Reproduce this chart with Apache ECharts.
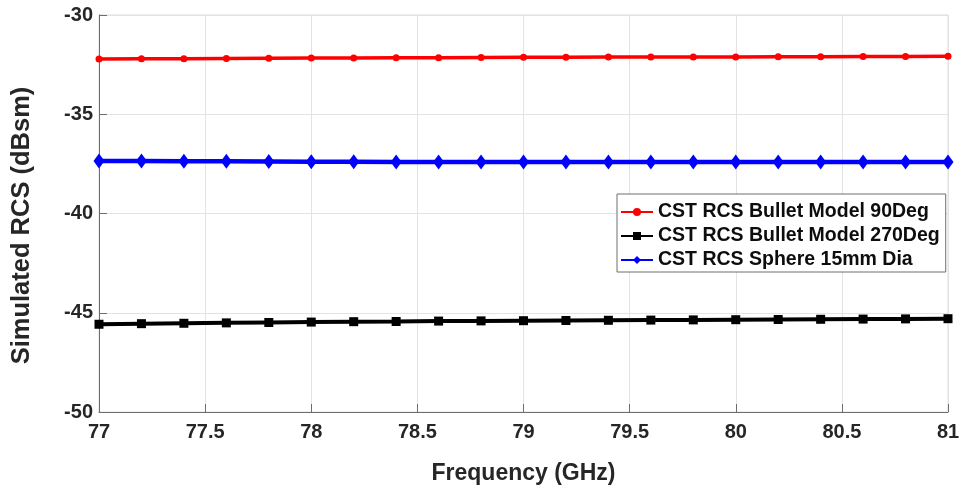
<!DOCTYPE html>
<html>
<head>
<meta charset="utf-8">
<script src="https://cdn.jsdelivr.net/npm/echarts@6/dist/echarts.min.js"></script>
<style>
  html, body { margin: 0; padding: 0; background: #fff; }
  #chart { width: 963px; height: 488px; }
</style>
</head>
<body>
<div id="chart"></div>
<script>
// Frequency sweep (GHz), 0.2 GHz step
const freqs = [77.0, 77.2, 77.4, 77.6, 77.8, 78.0, 78.2, 78.4, 78.6, 78.8, 79.0,
               79.2, 79.4, 79.6, 79.8, 80.0, 80.2, 80.4, 80.6, 80.8, 81.0];

// Simulated RCS (dBsm)
const bullet90 = [-32.22, -32.21, -32.20, -32.19, -32.18, -32.17, -32.16, -32.15, -32.15, -32.14, -32.13,
                  -32.13, -32.12, -32.12, -32.11, -32.11, -32.10, -32.10, -32.09, -32.09, -32.08];
const bullet270 = [-45.58, -45.55, -45.53, -45.51, -45.49, -45.47, -45.45, -45.44, -45.42, -45.41, -45.40,
                   -45.39, -45.38, -45.37, -45.36, -45.35, -45.34, -45.33, -45.32, -45.31, -45.30];
const sphere15 = [-37.35, -37.36, -37.37, -37.37, -37.38, -37.39, -37.39, -37.40, -37.40, -37.40, -37.41,
                  -37.41, -37.41, -37.41, -37.41, -37.41, -37.41, -37.41, -37.41, -37.41, -37.41];

const seriesNames = ['CST RCS Bullet Model 90Deg', 'CST RCS Bullet Model 270Deg', 'CST RCS Sphere 15mm Dia'];

const pairs = vals => freqs.map((f, i) => [f, vals[i]]);

const fontFam = '"Liberation Sans", Arial, sans-serif';
const textColor = '#262626';
const chart = echarts.init(document.getElementById('chart'));

const axisLabelStyle = { color: textColor, fontSize: 20, fontWeight: 'bold', fontFamily: fontFam };

chart.setOption({
  animation: false,
  backgroundColor: '#fff',
  grid: { left: 99, right: 15, top: 15, bottom: 76, containLabel: false, outerBoundsMode: 'none',
          show: true, borderColor: '#dcdcdc', borderWidth: 1 },
  xAxis: {
    type: 'value', min: 77, max: 81, interval: 0.5,
    name: 'Frequency (GHz)', nameLocation: 'middle', nameGap: 50,
    nameTextStyle: { color: textColor, fontSize: 23, fontWeight: 'bold', fontFamily: fontFam },
    axisLine: { show: true, onZero: false, lineStyle: { color: '#6e6e6e', width: 1 } },
    axisTick: { show: true, inside: true, length: 8, lineStyle: { color: '#6e6e6e' } },
    axisLabel: Object.assign({ margin: 10, formatter: v => String(v) }, axisLabelStyle),
    splitLine: { show: true, lineStyle: { color: '#e3e3e3', width: 1 } }
  },
  yAxis: {
    type: 'value', min: -50, max: -30, interval: 5,
    name: 'Simulated RCS (dBsm)', nameLocation: 'middle', nameGap: 64, nameRotate: 90,
    nameTextStyle: { color: textColor, fontSize: 25.5, fontWeight: 'bold', fontFamily: fontFam,
                     padding: [0, 24, 0, 0] },
    axisLine: { show: true, onZero: false, lineStyle: { color: '#6e6e6e', width: 1 } },
    axisTick: { show: true, inside: true, length: 8, lineStyle: { color: '#6e6e6e' } },
    axisLabel: Object.assign({ margin: 6 }, axisLabelStyle),
    splitLine: { show: true, lineStyle: { color: '#e3e3e3', width: 1 } }
  },
  legend: {
    orient: 'vertical', left: 617, top: 194,
    backgroundColor: '#fff', borderColor: '#6e6e6e', borderWidth: 1,
    padding: [8, 6, 2, 3], itemGap: 4, itemWidth: 32, itemHeight: 10,
    textStyle: { color: '#0d0d0d', fontSize: 19.5, fontWeight: 'bold', fontFamily: fontFam },
    data: seriesNames
  },
  series: [
    {
      name: seriesNames[0], type: 'line', data: pairs(bullet90),
      color: '#ff0000', lineStyle: { width: 3.5, color: '#ff0000' },
      symbol: 'circle', symbolSize: 7, itemStyle: { color: '#ff0000' }, z: 3
    },
    {
      name: seriesNames[1], type: 'line', data: pairs(bullet270),
      color: '#000000', lineStyle: { width: 4, color: '#000000' },
      symbol: 'rect', symbolSize: 9, itemStyle: { color: '#000000' }, z: 3
    },
    {
      name: seriesNames[2], type: 'line', data: pairs(sphere15),
      color: '#0000ff', lineStyle: { width: 4.5, color: '#0000ff' },
      symbol: 'diamond', symbolSize: [11, 15], itemStyle: { color: '#0000ff' }, z: 3
    }
  ]
});
</script>
</body>
</html>
